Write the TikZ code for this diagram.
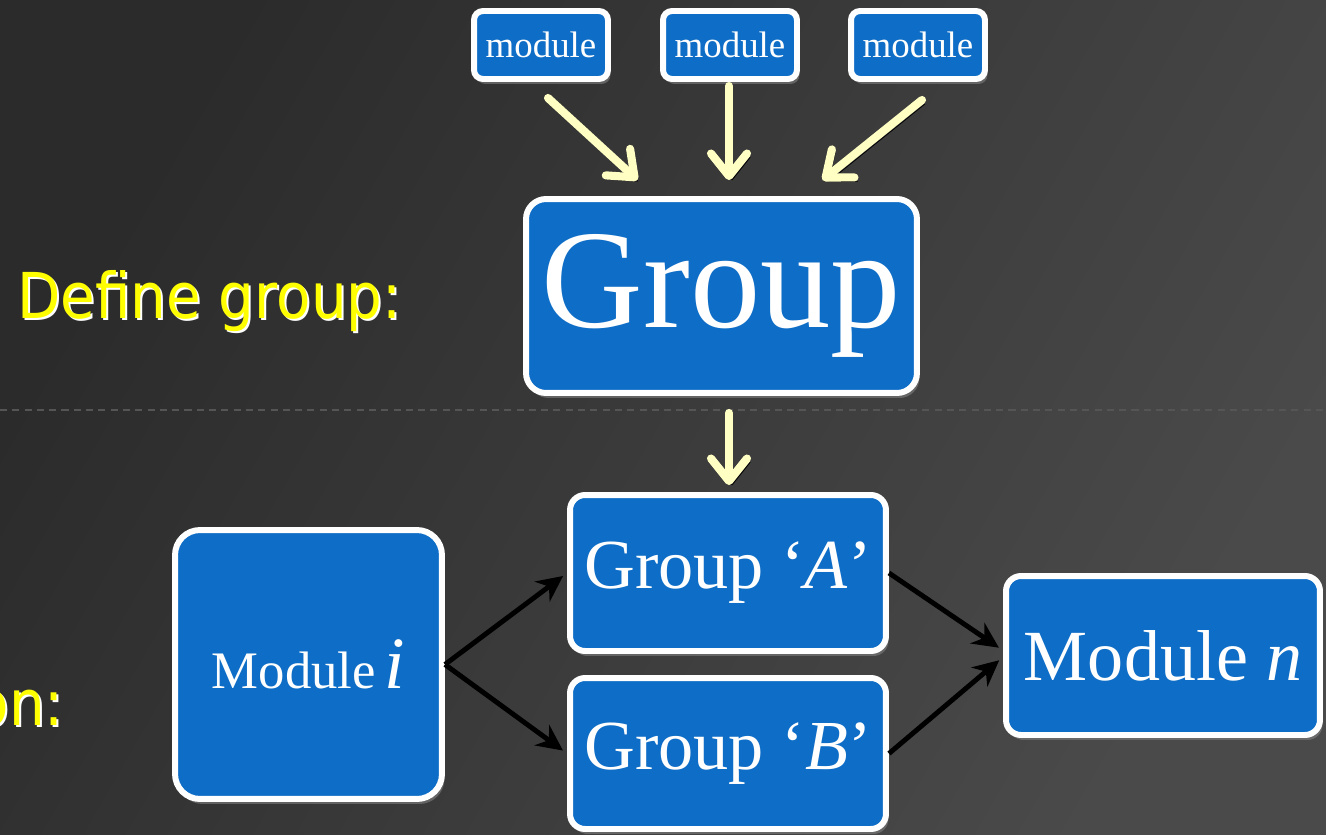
\documentclass[tikz,border=0pt]{standalone}
\usepackage{fontspec}
\setmainfont{Liberation Serif}
\newfontfamily\slidefont{DejaVu Sans}[FakeStretch=0.89]
\usetikzlibrary{arrows.meta,shadows,calc}

\definecolor{boxblue}{HTML}{0E6DC6}
\definecolor{arrowcream}{HTML}{FFFFC4}
\definecolor{titleyellow}{HTML}{FFFF00}
\definecolor{bgdark}{HTML}{2B2B2B}
\definecolor{bglight}{HTML}{4A4A4A}

\begin{document}
\begin{tikzpicture}[
    x=0.02cm, y=-0.02cm,
    blk/.style={rectangle, rounded corners=#1, draw=white, line width=3.4pt, fill=boxblue, text=white, inner sep=0pt,
        drop shadow={opacity=0.6, shadow xshift=0.05cm, shadow yshift=-0.1cm}},
    blk/.default=0.35cm,
    yarrow/.style={draw=arrowcream, line width=4.6pt, line cap=round,
        -{Straight Barb[length=0.45cm, width=0.72cm, round]},
        preaction={draw=black, transform canvas={xshift=1.8pt, yshift=-2.2pt}}},
    barrow/.style={draw=black, line width=2.8pt, -{Stealth[length=0.52cm, width=0.5cm]}},
    slidetxt/.style={font=\slidefont\fontsize{36}{40}\selectfont, inner sep=0pt}
]

% Slide background
\useasboundingbox (0,0) rectangle (1326,835);
\clip (0,0) rectangle (1326,835);
\shade[top color=bglight, bottom color=bgdark, shading angle=240] (0,0) rectangle (1326,835);
\draw[color=white!20!bgdark, line width=0.6pt, dash pattern=on 4pt off 3pt] (0,410) -- (1326,410);

% Slide labels
\node[slidetxt, text=white, anchor=base west] (defsh) at (19,320) {Define group:};
\node[slidetxt, text=titleyellow, anchor=base west] (def) at (17,318) {Define group:};
\node[slidetxt, text=white, anchor=base east] (onsh) at (66,727) {on:};
\node[slidetxt, text=titleyellow, anchor=base east] (on) at (64,725) {on:};

% Modules feeding the group
\node[blk=0.18cm, minimum width=2.68cm, minimum height=1.36cm, font=\fontsize{21}{24}\selectfont] (m1) at (541,45) {module};
\node[blk=0.18cm, minimum width=2.68cm, minimum height=1.36cm, font=\fontsize{21}{24}\selectfont] (m2) at (730,45) {module};
\node[blk=0.18cm, minimum width=2.68cm, minimum height=1.36cm, font=\fontsize{21}{24}\selectfont] (m3) at (918,45) {module};

\node[blk=0.4cm, minimum width=7.82cm, minimum height=3.88cm, font=\fontsize{80}{90}\selectfont] (grp) at (721.5,296) {Group};

% Groups and modules below
\node[blk=0.3cm, minimum width=6.32cm, minimum height=3.12cm, font=\fontsize{40}{44}\selectfont] (ga) at (728,573) {Group ‘\textit{A}’};
\node[blk=0.3cm, minimum width=6.32cm, minimum height=3.02cm, font=\fontsize{40}{44}\selectfont] (gb) at (728,753.5) {Group ‘\textit{B}’};
\node[blk=0.5cm, minimum width=5.34cm, minimum height=5.38cm, font=\fontsize{30}{34}\selectfont] (mi) at (308.5,664.5) {Module\,{\fontsize{42}{46}\selectfont\itshape i}};
\node[blk=0.3cm, minimum width=6.28cm, minimum height=3.18cm, font=\fontsize{41}{46}\selectfont] (mn) at (1163,655.5) {Module \textit{n}};

% Yellow arrows
\draw[yarrow] ($(m1.south)+(7,16)$) -- ($(grp.north)+(-84,-16)$);
\draw[yarrow] ($(m2.south)+(-1,4)$) -- ($(m2.south |- grp.north)+(-1,-16)$);
\draw[yarrow] ($(m3.south)+(4,18)$) -- ($(grp.north)+(101,-16)$);
\draw[yarrow] ($(grp.south -| ga.north)+(1,17)$) -- ($(ga.north)+(1,-7)$);

% Black arrows
\draw[barrow, shorten >=0.1cm] (mi.east) -- (ga.west);
\draw[barrow, shorten >=0.1cm] (mi.east) -- (gb.west);
\draw[barrow, shorten >=0.1cm] (ga.east) -- ([yshift=0.1cm]mn.west);
\draw[barrow, shorten >=0.1cm] (gb.east) -- ([yshift=-0.03cm]mn.west);

\end{tikzpicture}
\end{document}
